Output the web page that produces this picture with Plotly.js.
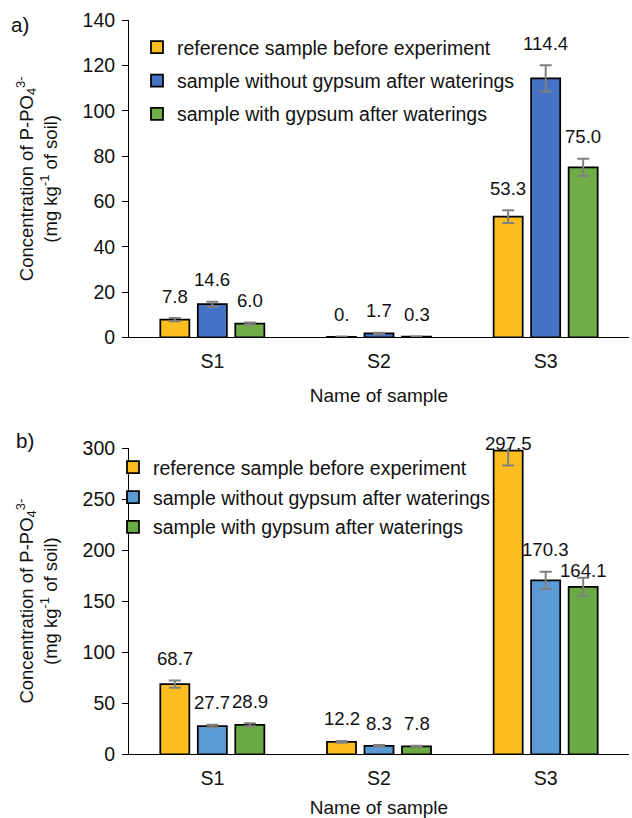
<!DOCTYPE html>
<html>
<head>
<meta charset="utf-8">
<script src="https://cdn.plot.ly/plotly-3.0.1.min.js"></script>
<style>html,body{margin:0;padding:0;background:#fff;}#chart{width:632px;height:818px;}</style>
</head>
<body>
<div id="chart"></div>
<script>
// ---------- data ----------
const categories = ['S1', 'S2', 'S3'];
const seriesNames = [
  'reference sample before experiment',
  'sample without gypsum after waterings',
  'sample with gypsum after waterings'
];

// panel a)
const aRef = [7.8, 0.2, 53.3];
const aRefErr = [0.7, 0.1, 2.8];
const aRefLabels = ['7.8', '0.', '53.3'];
const aNoGyp = [14.6, 1.7, 114.4];
const aNoGypErr = [1.1, 0.3, 5.8];
const aNoGypLabels = ['14.6', '1.7', '114.4'];
const aGyp = [6.0, 0.3, 75.0];
const aGypErr = [0.5, 0.1, 3.8];
const aGypLabels = ['6.0', '0.3', '75.0'];

// panel b)
const bRef = [68.7, 12.2, 297.5];
const bRefErr = [3.5, 0.9, 14.7];
const bRefLabels = ['68.7', '12.2', '297.5'];
const bNoGyp = [27.7, 8.3, 170.3];
const bNoGypErr = [1.2, 0.7, 8.5];
const bNoGypLabels = ['27.7', '8.3', '170.3'];
const bGyp = [28.9, 7.8, 164.1];
const bGypErr = [1.5, 0.5, 8.7];
const bGypLabels = ['28.9', '7.8', '164.1'];

const aTicks = [0, 20, 40, 60, 80, 100, 120, 140];
const bTicks = [0, 50, 100, 150, 200, 250, 300];

// ---------- styling ----------
const FONT = 'Arial, "Liberation Sans", sans-serif';
const TXT = '#111';
const W = 632, H = 818;
const ML = 129, MR = 3;
const plotW = W - ML - MR;
const BARGAP = 0.325, GROUPGAP = 0.225;
const colorsA = ['#FCBD21', '#4472C4', '#70AD47'];
const colorsB = ['#FCBD21', '#5B9BD5', '#6AAA44'];
const LABEL_SIZE = 18.6;

// pixel rows of the two plot areas
const aTopPx = 20.3, aBotPx = 337.3;
const bTopPx = 448, bBotPx = 754.3;
const dom = (top, bot) => [1 - bot / H, 1 - top / H];

function bars(vals, errs, name, color, xa, ya, legend, group) {
  return {
    type: 'bar', x: categories, y: vals, name: name,
    xaxis: xa, yaxis: ya, legend: legend, legendgroup: group,
    marker: {color: color, line: {color: '#000', width: 1.75}},
    error_y: {type: 'data', array: errs, visible: true, color: '#808080', thickness: 2, width: 6},
    hoverinfo: 'none'
  };
}

const traces = [
  bars(aRef, aRefErr, seriesNames[0], colorsA[0], 'x', 'y', 'legend', 'a0'),
  bars(aNoGyp, aNoGypErr, seriesNames[1], colorsA[1], 'x', 'y', 'legend', 'a1'),
  bars(aGyp, aGypErr, seriesNames[2], colorsA[2], 'x', 'y', 'legend', 'a2'),
  bars(bRef, bRefErr, seriesNames[0], colorsB[0], 'x2', 'y2', 'legend2', 'b0'),
  bars(bNoGyp, bNoGypErr, seriesNames[1], colorsB[1], 'x2', 'y2', 'legend2', 'b1'),
  bars(bGyp, bGypErr, seriesNames[2], colorsB[2], 'x2', 'y2', 'legend2', 'b2')
];

// value labels, placed above the error bars; a label that would collide with
// its left neighbour is dropped one line lower (as in the original figure)
const catPx = plotW / categories.length;
const slotPx = catPx * (1 - BARGAP) / 3;
const annotations = [];
function textW(s) {
  let w = 0;
  for (const ch of s) w += (ch === '.' ? 0.278 : 0.556);
  return w * LABEL_SIZE;
}
function addPanelLabels(seriesVals, seriesErrs, seriesLabels, xref, yref, ymax, topPx, botPx) {
  const ppu = (botPx - topPx) / ymax;
  categories.forEach((cat, i) => {
    let prev = null;
    for (let k = 0; k < seriesVals.length; k++) {
      const v = seriesVals[k][i], e = seriesErrs[k][i], lab = seriesLabels[k][i];
      const errTop = v + e;
      let c = errTop * ppu + 22;                 // label centre, px above baseline
      let clamped = false;
      if (c > ymax * ppu + 5) { c = ymax * ppu + 5; clamped = true; }
      const cx = (k - 1) * slotPx, w = textW(lab);
      if (prev && Math.abs(c - prev.c) < 20 && (cx - w / 2) < (prev.cx + prev.w / 2)) {
        c = prev.c - 21;
      }
      annotations.push({
        x: cat, y: clamped ? ymax : 0, xref: xref, yref: yref,
        text: lab, showarrow: false, xanchor: 'center', yanchor: 'middle',
        xshift: cx, yshift: clamped ? 5 : c,
        font: {family: FONT, size: LABEL_SIZE, color: TXT}
      });
      prev = {c: c, cx: cx, w: w};
    }
  });
}
addPanelLabels([aRef, aNoGyp, aGyp], [aRefErr, aNoGypErr, aGypErr],
  [aRefLabels, aNoGypLabels, aGypLabels], 'x', 'y', 140, aTopPx, aBotPx);
addPanelLabels([bRef, bNoGyp, bGyp], [bRefErr, bNoGypErr, bGypErr],
  [bRefLabels, bNoGypLabels, bGypLabels], 'x2', 'y2', 300, bTopPx, bBotPx);

// panel letters
annotations.push({text: 'a)', xref: 'paper', yref: 'paper', x: (9 - ML) / plotW, y: 1 - 25 / H,
  xanchor: 'left', yanchor: 'middle', showarrow: false, font: {family: FONT, size: 20.5, color: TXT}});
annotations.push({text: 'b)', xref: 'paper', yref: 'paper', x: (14 - ML) / plotW, y: 1 - 440 / H,
  xanchor: 'left', yanchor: 'middle', showarrow: false, font: {family: FONT, size: 20.5, color: TXT}});

const yTitle = 'Concentration of P-PO<sub>4</sub><sup>3-</sup><br>(mg kg<sup>-1</sup> of soil)';

function xAxis(anchor) {
  return {
    anchor: anchor, domain: [0, 1], type: 'category',
    showline: true, linecolor: '#000', linewidth: 1, ticks: '', showgrid: false, zeroline: false,
    tickfont: {family: FONT, size: 19.5, color: TXT}, ticklabelstandoff: 6,
    title: {text: 'Name of sample', font: {family: FONT, size: 19, color: TXT}, standoff: 17},
    automargin: false
  };
}
function yAxis(anchor, domain, ticks) {
  return {
    anchor: anchor, domain: domain, range: [0, ticks[ticks.length - 1]],
    tickvals: ticks, ticktext: ticks.map(String),
    showline: true, linecolor: '#000', linewidth: 1, ticks: 'outside', ticklen: 6, tickcolor: '#000',
    showgrid: false, zeroline: false,
    tickfont: {family: FONT, size: 19.5, color: TXT}, ticklabelstandoff: 3,
    title: {text: yTitle, font: {family: FONT, size: 18.5, color: TXT}, standoff: 20},
    automargin: false
  };
}

function legendBox(xPx, yPx, gap) {
  return {
    x: (xPx - ML) / plotW, xanchor: 'left', y: 1 - yPx / H, yanchor: 'top',
    bgcolor: 'rgba(0,0,0,0)', borderwidth: 0,
    font: {family: FONT, size: 19.5, color: TXT},
    tracegroupgap: gap, traceorder: 'grouped'
  };
}

const layout = {
  width: W, height: H,
  margin: {l: ML, r: MR, t: 0, b: 0},
  paper_bgcolor: '#fff', plot_bgcolor: '#fff',
  barmode: 'group', bargap: BARGAP, bargroupgap: GROUPGAP,
  xaxis: xAxis('y'),
  yaxis: yAxis('x', dom(aTopPx, aBotPx), aTicks),
  xaxis2: xAxis('y2'),
  yaxis2: yAxis('x2', dom(bTopPx, bBotPx), bTicks),
  showlegend: true,
  legend: legendBox(137, 28, 5),
  legend2: legendBox(113, 448, 1.5),
  annotations: annotations,
  font: {family: FONT, color: TXT}
};

Plotly.newPlot('chart', traces, layout, {staticPlot: true, displayModeBar: false});
</script>
</body>
</html>
